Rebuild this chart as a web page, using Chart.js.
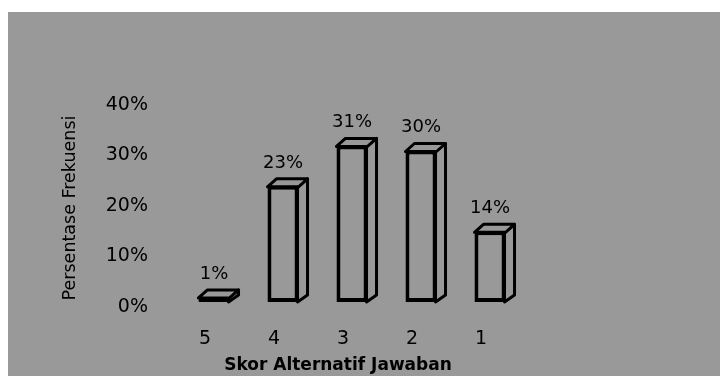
<!DOCTYPE html>
<html>
<head>
<meta charset="utf-8">
<script src="https://cdn.jsdelivr.net/npm/chart.js@4/dist/chart.umd.min.js"></script>
<style>
  html, body { margin: 0; padding: 0; background: #ffffff; }
  #wrap { width: 720px; height: 376px; }
</style>
</head>
<body>
<div id="wrap"><canvas id="chart" width="720" height="376"></canvas></div>
<script>
// data
const categories = ['5', '4', '3', '2', '1'];
const values = [1, 23, 31, 30, 14];
const yTickValues = [0, 10, 20, 30, 40];
const yTitle = 'Persentase Frekuensi';
const xTitle = 'Skor Alternatif Jawaban';

const GRAY = '#999999';
const DEPTH_X = 9;
const DEPTH_Y = 7;

// gray panel behind everything
const panelPlugin = {
    id: 'panel',
    beforeDraw(chart) {
        const ctx = chart.ctx;
        ctx.save();
        ctx.fillStyle = GRAY;
        ctx.fillRect(8, 12, chart.width - 8, chart.height - 12);
        ctx.restore();
    }
};

// fake 3d: top and side faces from the bar elements
const depthPlugin = {
    id: 'depth',
    beforeDatasetsDraw(chart) {
        const ctx = chart.ctx;
        const meta = chart.getDatasetMeta(0);
        ctx.save();
        ctx.fillStyle = GRAY;
        ctx.strokeStyle = '#000';
        ctx.lineWidth = 3;
        ctx.lineJoin = 'round';
        meta.data.forEach(bar => {
            const p = bar.getProps(['x', 'y', 'base', 'width'], true);
            const l = p.x - p.width / 2;
            const r = p.x + p.width / 2;
            const top = p.y;
            const base = p.base;
            // side
            ctx.beginPath();
            ctx.moveTo(r - 1, top);
            ctx.lineTo(r + DEPTH_X, top - DEPTH_Y);
            ctx.lineTo(r + DEPTH_X, base - DEPTH_Y);
            ctx.lineTo(r - 1, base);
            ctx.closePath();
            ctx.fill();
            ctx.stroke();
            // top
            ctx.beginPath();
            ctx.moveTo(l, top + 1);
            ctx.lineTo(l + DEPTH_X, top - DEPTH_Y);
            ctx.lineTo(r + DEPTH_X, top - DEPTH_Y);
            ctx.lineTo(r, top + 1);
            ctx.closePath();
            ctx.fill();
            ctx.stroke();
        });
        ctx.restore();
    },
    afterDatasetsDraw(chart) {
        const ctx = chart.ctx;
        const meta = chart.getDatasetMeta(0);
        ctx.save();
        ctx.fillStyle = '#000';
        ctx.font = '18px "DejaVu Sans"';
        ctx.textAlign = 'center';
        ctx.textBaseline = 'middle';
        meta.data.forEach((bar, i) => {
            ctx.fillText(values[i] + '%', bar.x, bar.y - 23);
        });
        ctx.restore();
    }
};

// axis titles
const titlesPlugin = {
    id: 'titles',
    afterDraw(chart) {
        const ctx = chart.ctx;
        ctx.save();
        ctx.fillStyle = '#000';
        ctx.textAlign = 'center';
        ctx.textBaseline = 'middle';
        ctx.font = 'bold 17px "DejaVu Sans"';
        ctx.fillText(xTitle, 338, 366);
        ctx.translate(70, 208);
        ctx.rotate(-Math.PI / 2);
        ctx.font = '17.5px "DejaVu Sans"';
        ctx.fillText(yTitle, 0, 0);
        ctx.restore();
    }
};

const ctx = document.getElementById('chart').getContext('2d');
const chart = new Chart(ctx, {
    type: 'bar',
    data: {
        labels: categories,
        datasets: [{
            data: values,
            backgroundColor: GRAY,
            borderColor: '#000',
            borderWidth: 4,
            borderSkipped: false,
            barPercentage: 0.45,
            categoryPercentage: 1
        }]
    },
    options: {
        responsive: false,
        animation: false,
        layout: {
            padding: { left: 0, right: 195.5, top: 100, bottom: 0 }
        },
        plugins: {
            legend: { display: false },
            tooltip: { enabled: false }
        },
        scales: {
            x: {
                grid: { display: false, drawTicks: false },
                border: { display: false },
                ticks: {
                    color: '#000',
                    font: { family: 'DejaVu Sans', size: 19 },
                    padding: 26,
                    labelOffset: -9
                },
                afterFit(scale) { scale.height = 74; }
            },
            y: {
                min: 0,
                max: 40,
                grid: { display: false, drawTicks: false },
                border: { display: false },
                afterBuildTicks(scale) {
                    scale.ticks = yTickValues.map(v => ({ value: v }));
                },
                ticks: {
                    color: '#000',
                    font: { family: 'DejaVu Sans', size: 19 },
                    padding: 31.5,
                    labelOffset: 5,
                    callback: v => v + '%'
                },
                afterFit(scale) { scale.width = 179.5; }
            }
        }
    },
    plugins: [panelPlugin, depthPlugin, titlesPlugin]
});
</script>
</body>
</html>
